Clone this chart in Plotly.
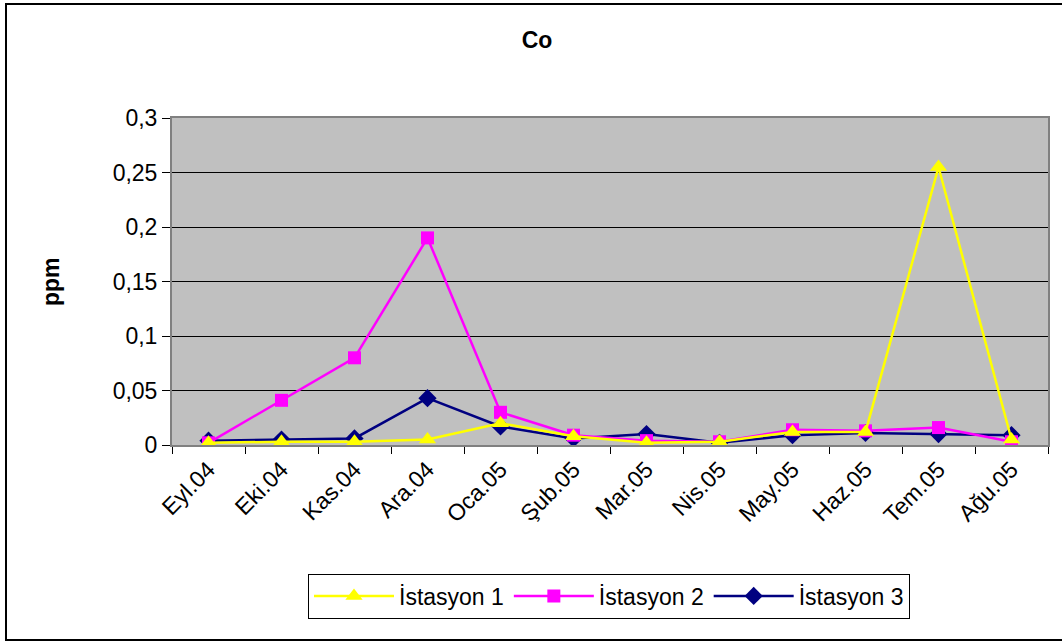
import plotly.graph_objects as go

months = ["Eyl.04", "Eki.04", "Kas.04", "Ara.04", "Oca.05", "Şub.05",
          "Mar.05", "Nis.05", "May.05", "Haz.05", "Tem.05", "Ağu.05"]
ist1 = [0.002, 0.003, 0.003, 0.005, 0.020, 0.008, 0.002, 0.003, 0.012, 0.012, 0.255, 0.005]
ist2 = [0.002, 0.041, 0.080, 0.190, 0.030, 0.009, 0.004, 0.003, 0.014, 0.013, 0.016, 0.003]
ist3 = [0.004, 0.005, 0.006, 0.043, 0.017, 0.006, 0.010, 0.002, 0.009, 0.011, 0.010, 0.009]
yticks = [0, 0.05, 0.1, 0.15, 0.2, 0.25, 0.3]

FONT = "Arial, Liberation Sans, sans-serif"
FS = 23
fig = go.Figure()
fig.add_trace(go.Scatter(x=months, y=ist3, name="İstasyon 3", mode="lines+markers",
                         line=dict(color="#000080", width=2.5),
                         marker=dict(symbol="diamond", size=14, color="#000080")))
fig.add_trace(go.Scatter(x=months, y=ist2, name="İstasyon 2", mode="lines+markers",
                         line=dict(color="#FF00FF", width=2.5),
                         marker=dict(symbol="square", size=13, color="#FF00FF")))
fig.add_trace(go.Scatter(x=months, y=ist1, name="İstasyon 1", mode="lines+markers",
                         line=dict(color="#FFFF00", width=2.5),
                         marker=dict(symbol="triangle-up", size=15, color="#FFFF00")))

L, R, T, B = 172, 1048, 118, 445
W, H = R - L, B - T

def px(x):
    return (x - L) / W

def py(y):
    return (B - y) / H

fig.update_layout(
    width=1062, height=641,
    margin=dict(l=L, r=1062 - R, t=T, b=641 - B),
    paper_bgcolor="white", plot_bgcolor="#C0C0C0",
    separators=", ",
    font=dict(family=FONT, size=FS, color="black"),
    title=dict(text="<b>Co</b>", x=537 / 1062, xref="container", xanchor="center",
               y=1 - 40 / 641, yref="container", yanchor="middle",
               font=dict(family=FONT, size=FS, color="black")),
    showlegend=True,
    legend=dict(orientation="h", traceorder="reversed", x=px(609), xanchor="center",
                y=py(596), yanchor="middle", bgcolor="white", bordercolor="black",
                borderwidth=1, font=dict(family=FONT, size=FS), itemwidth=80),
    xaxis=dict(type="category", categoryorder="array", categoryarray=months,
               range=[-0.5, len(months) - 0.5],
               tickangle=-45, ticks="outside", ticklen=7, tickcolor="black",
               tickson="boundaries", showgrid=False, showline=True,
               linecolor="#808080", linewidth=2, mirror=True,
               tickfont=dict(family=FONT, size=FS)),
    yaxis=dict(range=[0, 0.3], tickvals=yticks, ticks="outside", ticklen=8,
               tickcolor="black", showgrid=True, gridcolor="black", gridwidth=1,
               zeroline=True, zerolinecolor="black", zerolinewidth=2,
               showline=True, linecolor="#808080", linewidth=2, mirror=True,
               tickfont=dict(family=FONT, size=FS)),
    annotations=[dict(text="<b>ppm</b>", textangle=-90, x=px(51), y=py(282),
                      xref="paper", yref="paper", showarrow=False,
                      xanchor="center", yanchor="middle",
                      font=dict(family=FONT, size=FS, color="black"))],
    shapes=[dict(type="rect", xref="paper", yref="paper",
                 x0=px(6), x1=px(1066), y0=py(640), y1=py(4),
                 line=dict(color="black", width=2), fillcolor="rgba(0,0,0,0)",
                 layer="below")],
)

fig.write_html("out.html", config={"displayModeBar": False},
               post_script="document.body.style.margin='0';document.body.style.overflow='hidden';")
